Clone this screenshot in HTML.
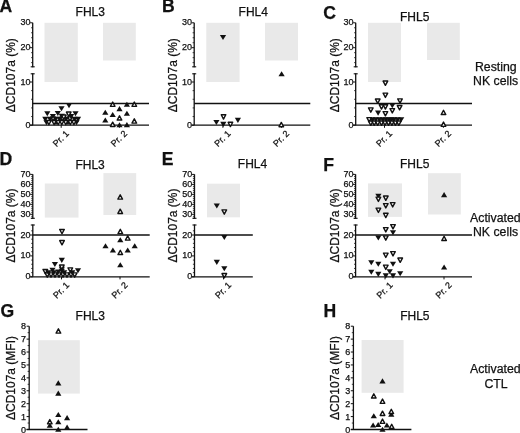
<!DOCTYPE html>
<html><head><meta charset="utf-8"><style>
html,body{margin:0;padding:0;background:#fff;}
body{width:520px;height:433px;overflow:hidden;}
svg{display:block;will-change:transform;filter:blur(0.3px);}
text{font-family:"Liberation Sans",sans-serif;fill:#111;stroke:#111;stroke-width:0.25px;}
</style></head><body>
<svg width="520" height="433" viewBox="0 0 520 433">
<rect x="0" y="0" width="520" height="433" fill="#fff"/>
<text x="-0.60" y="12.40" font-size="17.6" text-anchor="start" font-weight="bold" >A</text>
<text x="75.60" y="15.90" font-size="12" text-anchor="start" font-weight="normal" >FHL3</text>
<rect x="44.50" y="22.80" width="33.30" height="59.20" fill="#e9e9e9"/>
<rect x="103.00" y="22.80" width="32.80" height="37.70" fill="#e9e9e9"/>
<line x1="32.70" y1="22.70" x2="32.70" y2="67.30" stroke="#111" stroke-width="1.3"/>
<line x1="30.70" y1="66.80" x2="34.70" y2="66.80" stroke="#111" stroke-width="1.1"/>
<line x1="32.70" y1="73.30" x2="32.70" y2="125.20" stroke="#111" stroke-width="1.3"/>
<line x1="30.70" y1="73.80" x2="34.70" y2="73.80" stroke="#111" stroke-width="1.1"/>
<line x1="30.10" y1="22.80" x2="32.70" y2="22.80" stroke="#111" stroke-width="1.0"/>
<text x="30.50" y="25.30" font-size="9" text-anchor="end" font-weight="normal" >30</text>
<line x1="30.10" y1="47.70" x2="32.70" y2="47.70" stroke="#111" stroke-width="1.0"/>
<text x="30.50" y="50.20" font-size="9" text-anchor="end" font-weight="normal" >20</text>
<line x1="30.10" y1="82.00" x2="32.70" y2="82.00" stroke="#111" stroke-width="1.0"/>
<text x="30.50" y="84.50" font-size="9" text-anchor="end" font-weight="normal" >10</text>
<line x1="30.10" y1="125.20" x2="32.70" y2="125.20" stroke="#111" stroke-width="1.0"/>
<text x="30.50" y="127.70" font-size="9" text-anchor="end" font-weight="normal" >0</text>
<line x1="31.10" y1="27.78" x2="32.70" y2="27.78" stroke="#111" stroke-width="0.8"/>
<line x1="31.10" y1="32.76" x2="32.70" y2="32.76" stroke="#111" stroke-width="0.8"/>
<line x1="31.10" y1="37.74" x2="32.70" y2="37.74" stroke="#111" stroke-width="0.8"/>
<line x1="31.10" y1="42.72" x2="32.70" y2="42.72" stroke="#111" stroke-width="0.8"/>
<line x1="31.10" y1="52.68" x2="32.70" y2="52.68" stroke="#111" stroke-width="0.8"/>
<line x1="31.10" y1="57.66" x2="32.70" y2="57.66" stroke="#111" stroke-width="0.8"/>
<line x1="31.10" y1="62.64" x2="32.70" y2="62.64" stroke="#111" stroke-width="0.8"/>
<line x1="31.10" y1="90.64" x2="32.70" y2="90.64" stroke="#111" stroke-width="0.8"/>
<line x1="31.10" y1="99.28" x2="32.70" y2="99.28" stroke="#111" stroke-width="0.8"/>
<line x1="31.10" y1="107.92" x2="32.70" y2="107.92" stroke="#111" stroke-width="0.8"/>
<line x1="31.10" y1="116.56" x2="32.70" y2="116.56" stroke="#111" stroke-width="0.8"/>
<line x1="32.70" y1="103.50" x2="149.00" y2="103.50" stroke="#111" stroke-width="1.3"/>
<line x1="30.10" y1="125.20" x2="149.00" y2="125.20" stroke="#111" stroke-width="1.3"/>
<line x1="61.20" y1="125.20" x2="61.20" y2="127.80" stroke="#111" stroke-width="1.0"/>
<text x="69.50" y="134.20" font-size="9" text-anchor="end" font-weight="normal" transform="rotate(-45 69.50 134.20)">Pr. 1</text>
<line x1="119.40" y1="125.20" x2="119.40" y2="127.80" stroke="#111" stroke-width="1.0"/>
<text x="127.70" y="134.20" font-size="9" text-anchor="end" font-weight="normal" transform="rotate(-45 127.70 134.20)">Pr. 2</text>
<text x="15.20" y="75.20" font-size="12" text-anchor="middle" font-weight="normal" transform="rotate(-90 15.20 75.2)">&#916;CD107a (%)</text>
<polygon points="43.40,120.25 49.60,120.25 46.50,125.35" fill="#111"/>
<polygon points="52.90,120.25 59.10,120.25 56.00,125.35" fill="#111"/>
<polygon points="64.90,120.25 71.10,120.25 68.00,125.35" fill="#111"/>
<polygon points="73.40,120.25 79.60,120.25 76.50,125.35" fill="#111"/>
<polygon points="42.20,116.85 48.40,116.85 45.30,121.95" fill="#111"/>
<polygon points="46.90,116.85 53.10,116.85 50.00,121.95" fill="#111"/>
<polygon points="52.40,116.85 58.60,116.85 55.50,121.95" fill="#111"/>
<polygon points="56.40,116.85 62.60,116.85 59.50,121.95" fill="#111"/>
<polygon points="62.90,116.85 69.10,116.85 66.00,121.95" fill="#111"/>
<polygon points="71.40,116.85 77.60,116.85 74.50,121.95" fill="#111"/>
<polygon points="74.90,116.85 81.10,116.85 78.00,121.95" fill="#111"/>
<polygon points="50.70,116.85 55.30,116.85 53.00,121.15" fill="#fff" stroke="#111" stroke-width="1.4" stroke-linejoin="round"/>
<polygon points="60.20,116.85 64.80,116.85 62.50,121.15" fill="#fff" stroke="#111" stroke-width="1.4" stroke-linejoin="round"/>
<polygon points="67.70,116.85 72.30,116.85 70.00,121.15" fill="#fff" stroke="#111" stroke-width="1.4" stroke-linejoin="round"/>
<polygon points="46.60,120.45 51.20,120.45 48.90,124.75" fill="#fff" stroke="#111" stroke-width="1.4" stroke-linejoin="round"/>
<polygon points="51.80,120.45 56.40,120.45 54.10,124.75" fill="#fff" stroke="#111" stroke-width="1.4" stroke-linejoin="round"/>
<polygon points="55.90,120.45 60.50,120.45 58.20,124.75" fill="#fff" stroke="#111" stroke-width="1.4" stroke-linejoin="round"/>
<polygon points="59.50,120.45 64.10,120.45 61.80,124.75" fill="#fff" stroke="#111" stroke-width="1.4" stroke-linejoin="round"/>
<polygon points="63.50,120.45 68.10,120.45 65.80,124.75" fill="#fff" stroke="#111" stroke-width="1.4" stroke-linejoin="round"/>
<polygon points="68.00,120.45 72.60,120.45 70.30,124.75" fill="#fff" stroke="#111" stroke-width="1.4" stroke-linejoin="round"/>
<polygon points="71.60,120.45 76.20,120.45 73.90,124.75" fill="#fff" stroke="#111" stroke-width="1.4" stroke-linejoin="round"/>
<polygon points="49.80,113.95 56.00,113.95 52.90,119.05" fill="#111"/>
<polygon points="58.70,113.85 64.90,113.85 61.80,118.95" fill="#111"/>
<polygon points="61.50,115.05 66.10,115.05 63.80,119.35" fill="#fff" stroke="#111" stroke-width="1.4" stroke-linejoin="round"/>
<polygon points="68.00,114.05 74.20,114.05 71.10,119.15" fill="#111"/>
<polygon points="44.20,111.15 50.40,111.15 47.30,116.25" fill="#111"/>
<polygon points="54.70,110.95 60.90,110.95 57.80,116.05" fill="#111"/>
<polygon points="66.40,112.05 71.00,112.05 68.70,116.35" fill="#fff" stroke="#111" stroke-width="1.4" stroke-linejoin="round"/>
<polygon points="72.40,111.15 78.60,111.15 75.50,116.25" fill="#111"/>
<polygon points="58.40,106.15 64.60,106.15 61.50,111.25" fill="#111"/>
<polygon points="65.90,103.05 72.10,103.05 69.00,108.15" fill="#111"/>
<polygon points="110.40,106.35 115.00,106.35 112.70,102.05" fill="#fff" stroke="#111" stroke-width="1.4" stroke-linejoin="round"/>
<polygon points="123.80,106.75 130.00,106.75 126.90,101.65" fill="#111"/>
<polygon points="132.00,106.35 136.60,106.35 134.30,102.05" fill="#fff" stroke="#111" stroke-width="1.4" stroke-linejoin="round"/>
<polygon points="116.40,111.15 122.60,111.15 119.50,106.05" fill="#111"/>
<polygon points="102.20,114.85 108.40,114.85 105.30,109.75" fill="#111"/>
<polygon points="109.60,117.05 115.80,117.05 112.70,111.95" fill="#111"/>
<polygon points="123.80,115.75 130.00,115.75 126.90,110.65" fill="#111"/>
<polygon points="117.20,120.05 121.80,120.05 119.50,115.75" fill="#fff" stroke="#111" stroke-width="1.4" stroke-linejoin="round"/>
<polygon points="102.20,122.55 108.40,122.55 105.30,117.45" fill="#111"/>
<polygon points="132.00,123.15 136.60,123.15 134.30,118.85" fill="#fff" stroke="#111" stroke-width="1.4" stroke-linejoin="round"/>
<polygon points="110.40,126.45 115.00,126.45 112.70,122.15" fill="#fff" stroke="#111" stroke-width="1.4" stroke-linejoin="round"/>
<polygon points="116.40,127.35 122.60,127.35 119.50,122.25" fill="#111"/>
<polygon points="123.80,127.15 130.00,127.15 126.90,122.05" fill="#111"/>
<text x="162.00" y="12.40" font-size="17.6" text-anchor="start" font-weight="bold" >B</text>
<text x="238.60" y="15.90" font-size="12" text-anchor="start" font-weight="normal" >FHL4</text>
<rect x="206.30" y="22.80" width="33.30" height="59.20" fill="#e9e9e9"/>
<rect x="265.00" y="22.80" width="33.00" height="37.70" fill="#e9e9e9"/>
<line x1="194.20" y1="22.70" x2="194.20" y2="67.30" stroke="#111" stroke-width="1.3"/>
<line x1="192.20" y1="66.80" x2="196.20" y2="66.80" stroke="#111" stroke-width="1.1"/>
<line x1="194.20" y1="73.30" x2="194.20" y2="125.20" stroke="#111" stroke-width="1.3"/>
<line x1="192.20" y1="73.80" x2="196.20" y2="73.80" stroke="#111" stroke-width="1.1"/>
<line x1="191.60" y1="22.80" x2="194.20" y2="22.80" stroke="#111" stroke-width="1.0"/>
<text x="192.00" y="25.30" font-size="9" text-anchor="end" font-weight="normal" >30</text>
<line x1="191.60" y1="47.70" x2="194.20" y2="47.70" stroke="#111" stroke-width="1.0"/>
<text x="192.00" y="50.20" font-size="9" text-anchor="end" font-weight="normal" >20</text>
<line x1="191.60" y1="82.00" x2="194.20" y2="82.00" stroke="#111" stroke-width="1.0"/>
<text x="192.00" y="84.50" font-size="9" text-anchor="end" font-weight="normal" >10</text>
<line x1="191.60" y1="125.20" x2="194.20" y2="125.20" stroke="#111" stroke-width="1.0"/>
<text x="192.00" y="127.70" font-size="9" text-anchor="end" font-weight="normal" >0</text>
<line x1="192.60" y1="27.78" x2="194.20" y2="27.78" stroke="#111" stroke-width="0.8"/>
<line x1="192.60" y1="32.76" x2="194.20" y2="32.76" stroke="#111" stroke-width="0.8"/>
<line x1="192.60" y1="37.74" x2="194.20" y2="37.74" stroke="#111" stroke-width="0.8"/>
<line x1="192.60" y1="42.72" x2="194.20" y2="42.72" stroke="#111" stroke-width="0.8"/>
<line x1="192.60" y1="52.68" x2="194.20" y2="52.68" stroke="#111" stroke-width="0.8"/>
<line x1="192.60" y1="57.66" x2="194.20" y2="57.66" stroke="#111" stroke-width="0.8"/>
<line x1="192.60" y1="62.64" x2="194.20" y2="62.64" stroke="#111" stroke-width="0.8"/>
<line x1="192.60" y1="90.64" x2="194.20" y2="90.64" stroke="#111" stroke-width="0.8"/>
<line x1="192.60" y1="99.28" x2="194.20" y2="99.28" stroke="#111" stroke-width="0.8"/>
<line x1="192.60" y1="107.92" x2="194.20" y2="107.92" stroke="#111" stroke-width="0.8"/>
<line x1="192.60" y1="116.56" x2="194.20" y2="116.56" stroke="#111" stroke-width="0.8"/>
<line x1="194.20" y1="103.50" x2="310.30" y2="103.50" stroke="#111" stroke-width="1.3"/>
<line x1="191.60" y1="125.20" x2="310.30" y2="125.20" stroke="#111" stroke-width="1.3"/>
<line x1="222.90" y1="125.20" x2="222.90" y2="127.80" stroke="#111" stroke-width="1.0"/>
<text x="231.20" y="134.20" font-size="9" text-anchor="end" font-weight="normal" transform="rotate(-45 231.20 134.20)">Pr. 1</text>
<line x1="281.50" y1="125.20" x2="281.50" y2="127.80" stroke="#111" stroke-width="1.0"/>
<text x="289.80" y="134.20" font-size="9" text-anchor="end" font-weight="normal" transform="rotate(-45 289.80 134.20)">Pr. 2</text>
<text x="176.90" y="75.20" font-size="12" text-anchor="middle" font-weight="normal" transform="rotate(-90 176.90 75.2)">&#916;CD107a (%)</text>
<polygon points="219.90,34.95 226.10,34.95 223.00,40.05" fill="#111"/>
<polygon points="221.20,114.75 225.80,114.75 223.50,119.05" fill="#fff" stroke="#111" stroke-width="1.4" stroke-linejoin="round"/>
<polygon points="213.30,119.95 219.50,119.95 216.40,125.05" fill="#111"/>
<polygon points="220.20,121.85 226.40,121.85 223.30,126.95" fill="#111"/>
<polygon points="228.10,122.25 232.70,122.25 230.40,126.55" fill="#fff" stroke="#111" stroke-width="1.4" stroke-linejoin="round"/>
<polygon points="234.80,117.85 241.00,117.85 237.90,122.95" fill="#111"/>
<polygon points="278.50,76.35 284.70,76.35 281.60,71.25" fill="#111"/>
<polygon points="279.00,126.75 283.60,126.75 281.30,122.45" fill="#fff" stroke="#111" stroke-width="1.4" stroke-linejoin="round"/>
<text x="323.30" y="19.00" font-size="17.6" text-anchor="start" font-weight="bold" >C</text>
<text x="400.00" y="20.70" font-size="12" text-anchor="start" font-weight="normal" >FHL5</text>
<rect x="368.00" y="22.80" width="33.00" height="59.20" fill="#e9e9e9"/>
<rect x="427.00" y="22.80" width="32.80" height="37.20" fill="#e9e9e9"/>
<line x1="355.70" y1="22.70" x2="355.70" y2="67.30" stroke="#111" stroke-width="1.3"/>
<line x1="353.70" y1="66.80" x2="357.70" y2="66.80" stroke="#111" stroke-width="1.1"/>
<line x1="355.70" y1="73.30" x2="355.70" y2="125.20" stroke="#111" stroke-width="1.3"/>
<line x1="353.70" y1="73.80" x2="357.70" y2="73.80" stroke="#111" stroke-width="1.1"/>
<line x1="353.10" y1="22.80" x2="355.70" y2="22.80" stroke="#111" stroke-width="1.0"/>
<text x="353.50" y="25.30" font-size="9" text-anchor="end" font-weight="normal" >30</text>
<line x1="353.10" y1="47.70" x2="355.70" y2="47.70" stroke="#111" stroke-width="1.0"/>
<text x="353.50" y="50.20" font-size="9" text-anchor="end" font-weight="normal" >20</text>
<line x1="353.10" y1="82.00" x2="355.70" y2="82.00" stroke="#111" stroke-width="1.0"/>
<text x="353.50" y="84.50" font-size="9" text-anchor="end" font-weight="normal" >10</text>
<line x1="353.10" y1="125.20" x2="355.70" y2="125.20" stroke="#111" stroke-width="1.0"/>
<text x="353.50" y="127.70" font-size="9" text-anchor="end" font-weight="normal" >0</text>
<line x1="354.10" y1="27.78" x2="355.70" y2="27.78" stroke="#111" stroke-width="0.8"/>
<line x1="354.10" y1="32.76" x2="355.70" y2="32.76" stroke="#111" stroke-width="0.8"/>
<line x1="354.10" y1="37.74" x2="355.70" y2="37.74" stroke="#111" stroke-width="0.8"/>
<line x1="354.10" y1="42.72" x2="355.70" y2="42.72" stroke="#111" stroke-width="0.8"/>
<line x1="354.10" y1="52.68" x2="355.70" y2="52.68" stroke="#111" stroke-width="0.8"/>
<line x1="354.10" y1="57.66" x2="355.70" y2="57.66" stroke="#111" stroke-width="0.8"/>
<line x1="354.10" y1="62.64" x2="355.70" y2="62.64" stroke="#111" stroke-width="0.8"/>
<line x1="354.10" y1="90.64" x2="355.70" y2="90.64" stroke="#111" stroke-width="0.8"/>
<line x1="354.10" y1="99.28" x2="355.70" y2="99.28" stroke="#111" stroke-width="0.8"/>
<line x1="354.10" y1="107.92" x2="355.70" y2="107.92" stroke="#111" stroke-width="0.8"/>
<line x1="354.10" y1="116.56" x2="355.70" y2="116.56" stroke="#111" stroke-width="0.8"/>
<line x1="355.70" y1="103.50" x2="472.00" y2="103.50" stroke="#111" stroke-width="1.3"/>
<line x1="353.10" y1="125.20" x2="472.00" y2="125.20" stroke="#111" stroke-width="1.3"/>
<line x1="384.50" y1="125.20" x2="384.50" y2="127.80" stroke="#111" stroke-width="1.0"/>
<text x="392.80" y="134.20" font-size="9" text-anchor="end" font-weight="normal" transform="rotate(-45 392.80 134.20)">Pr. 1</text>
<line x1="443.40" y1="125.20" x2="443.40" y2="127.80" stroke="#111" stroke-width="1.0"/>
<text x="451.70" y="134.20" font-size="9" text-anchor="end" font-weight="normal" transform="rotate(-45 451.70 134.20)">Pr. 2</text>
<text x="338.70" y="75.20" font-size="12" text-anchor="middle" font-weight="normal" transform="rotate(-90 338.70 75.2)">&#916;CD107a (%)</text>
<polygon points="383.10,81.05 387.70,81.05 385.40,85.35" fill="#fff" stroke="#111" stroke-width="1.4" stroke-linejoin="round"/>
<polygon points="383.10,93.15 387.70,93.15 385.40,97.45" fill="#fff" stroke="#111" stroke-width="1.4" stroke-linejoin="round"/>
<polygon points="375.40,99.05 380.00,99.05 377.70,103.35" fill="#fff" stroke="#111" stroke-width="1.4" stroke-linejoin="round"/>
<polygon points="397.70,98.85 402.30,98.85 400.00,103.15" fill="#fff" stroke="#111" stroke-width="1.4" stroke-linejoin="round"/>
<polygon points="379.20,104.75 383.80,104.75 381.50,109.05" fill="#fff" stroke="#111" stroke-width="1.4" stroke-linejoin="round"/>
<polygon points="383.10,104.75 387.70,104.75 385.40,109.05" fill="#fff" stroke="#111" stroke-width="1.4" stroke-linejoin="round"/>
<polygon points="389.20,103.25 395.40,103.25 392.30,108.35" fill="#111"/>
<polygon points="397.30,105.55 401.90,105.55 399.60,109.85" fill="#fff" stroke="#111" stroke-width="1.4" stroke-linejoin="round"/>
<polygon points="368.50,107.85 373.10,107.85 370.80,112.15" fill="#fff" stroke="#111" stroke-width="1.4" stroke-linejoin="round"/>
<polygon points="375.00,110.55 381.20,110.55 378.10,115.65" fill="#111"/>
<polygon points="383.10,111.65 387.70,111.65 385.40,115.95" fill="#fff" stroke="#111" stroke-width="1.4" stroke-linejoin="round"/>
<polygon points="390.00,108.65 394.60,108.65 392.30,112.95" fill="#fff" stroke="#111" stroke-width="1.4" stroke-linejoin="round"/>
<polygon points="366.90,117.65 371.50,117.65 369.20,121.95" fill="#fff" stroke="#111" stroke-width="1.4" stroke-linejoin="round"/>
<polygon points="369.40,117.25 375.60,117.25 372.50,122.35" fill="#111"/>
<polygon points="372.70,117.25 378.90,117.25 375.80,122.35" fill="#111"/>
<polygon points="376.20,117.25 382.40,117.25 379.30,122.35" fill="#111"/>
<polygon points="379.60,117.25 385.80,117.25 382.70,122.35" fill="#111"/>
<polygon points="382.70,117.25 388.90,117.25 385.80,122.35" fill="#111"/>
<polygon points="385.70,117.25 391.90,117.25 388.80,122.35" fill="#111"/>
<polygon points="388.40,117.25 394.60,117.25 391.50,122.35" fill="#111"/>
<polygon points="391.10,117.25 397.30,117.25 394.20,122.35" fill="#111"/>
<polygon points="394.60,117.25 400.80,117.25 397.70,122.35" fill="#111"/>
<polygon points="398.10,117.25 404.30,117.25 401.20,122.35" fill="#111"/>
<polygon points="368.50,121.05 373.10,121.05 370.80,125.35" fill="#fff" stroke="#111" stroke-width="1.4" stroke-linejoin="round"/>
<polygon points="371.90,121.05 376.50,121.05 374.20,125.35" fill="#fff" stroke="#111" stroke-width="1.4" stroke-linejoin="round"/>
<polygon points="375.40,121.05 380.00,121.05 377.70,125.35" fill="#fff" stroke="#111" stroke-width="1.4" stroke-linejoin="round"/>
<polygon points="379.20,121.05 383.80,121.05 381.50,125.35" fill="#fff" stroke="#111" stroke-width="1.4" stroke-linejoin="round"/>
<polygon points="382.70,121.05 387.30,121.05 385.00,125.35" fill="#fff" stroke="#111" stroke-width="1.4" stroke-linejoin="round"/>
<polygon points="386.20,121.05 390.80,121.05 388.50,125.35" fill="#fff" stroke="#111" stroke-width="1.4" stroke-linejoin="round"/>
<polygon points="389.60,121.05 394.20,121.05 391.90,125.35" fill="#fff" stroke="#111" stroke-width="1.4" stroke-linejoin="round"/>
<polygon points="393.10,121.05 397.70,121.05 395.40,125.35" fill="#fff" stroke="#111" stroke-width="1.4" stroke-linejoin="round"/>
<polygon points="396.50,121.05 401.10,121.05 398.80,125.35" fill="#fff" stroke="#111" stroke-width="1.4" stroke-linejoin="round"/>
<polygon points="441.20,114.55 445.80,114.55 443.50,110.25" fill="#fff" stroke="#111" stroke-width="1.4" stroke-linejoin="round"/>
<polygon points="441.20,126.35 445.80,126.35 443.50,122.05" fill="#fff" stroke="#111" stroke-width="1.4" stroke-linejoin="round"/>
<text x="495.80" y="70.60" font-size="12.3" text-anchor="middle" font-weight="normal" >Resting</text>
<text x="495.60" y="85.20" font-size="12.3" text-anchor="middle" font-weight="normal" >NK cells</text>
<text x="-0.40" y="164.60" font-size="17.6" text-anchor="start" font-weight="bold" >D</text>
<text x="75.40" y="168.50" font-size="12" text-anchor="start" font-weight="normal" >FHL3</text>
<rect x="44.80" y="183.50" width="33.70" height="34.10" fill="#e9e9e9"/>
<rect x="103.40" y="173.10" width="32.80" height="41.90" fill="#e9e9e9"/>
<line x1="32.80" y1="174.30" x2="32.80" y2="218.80" stroke="#111" stroke-width="1.3"/>
<line x1="30.80" y1="218.30" x2="34.80" y2="218.30" stroke="#111" stroke-width="1.1"/>
<line x1="32.80" y1="224.50" x2="32.80" y2="276.80" stroke="#111" stroke-width="1.3"/>
<line x1="30.80" y1="225.00" x2="34.80" y2="225.00" stroke="#111" stroke-width="1.1"/>
<line x1="30.20" y1="174.40" x2="32.80" y2="174.40" stroke="#111" stroke-width="1.0"/>
<text x="30.60" y="176.90" font-size="9" text-anchor="end" font-weight="normal" >70</text>
<line x1="30.20" y1="184.38" x2="32.80" y2="184.38" stroke="#111" stroke-width="1.0"/>
<text x="30.60" y="186.88" font-size="9" text-anchor="end" font-weight="normal" >60</text>
<line x1="30.20" y1="194.35" x2="32.80" y2="194.35" stroke="#111" stroke-width="1.0"/>
<text x="30.60" y="196.85" font-size="9" text-anchor="end" font-weight="normal" >50</text>
<line x1="30.20" y1="204.33" x2="32.80" y2="204.33" stroke="#111" stroke-width="1.0"/>
<text x="30.60" y="206.83" font-size="9" text-anchor="end" font-weight="normal" >40</text>
<line x1="30.20" y1="214.30" x2="32.80" y2="214.30" stroke="#111" stroke-width="1.0"/>
<text x="30.60" y="216.80" font-size="9" text-anchor="end" font-weight="normal" >30</text>
<line x1="30.20" y1="235.00" x2="32.80" y2="235.00" stroke="#111" stroke-width="1.0"/>
<text x="30.60" y="237.50" font-size="9" text-anchor="end" font-weight="normal" >20</text>
<line x1="30.20" y1="255.90" x2="32.80" y2="255.90" stroke="#111" stroke-width="1.0"/>
<text x="30.60" y="258.40" font-size="9" text-anchor="end" font-weight="normal" >10</text>
<line x1="30.20" y1="276.80" x2="32.80" y2="276.80" stroke="#111" stroke-width="1.0"/>
<text x="30.60" y="279.30" font-size="9" text-anchor="end" font-weight="normal" >0</text>
<line x1="31.20" y1="176.40" x2="32.80" y2="176.40" stroke="#111" stroke-width="0.8"/>
<line x1="31.20" y1="178.39" x2="32.80" y2="178.39" stroke="#111" stroke-width="0.8"/>
<line x1="31.20" y1="180.39" x2="32.80" y2="180.39" stroke="#111" stroke-width="0.8"/>
<line x1="31.20" y1="182.38" x2="32.80" y2="182.38" stroke="#111" stroke-width="0.8"/>
<line x1="31.20" y1="186.37" x2="32.80" y2="186.37" stroke="#111" stroke-width="0.8"/>
<line x1="31.20" y1="188.37" x2="32.80" y2="188.37" stroke="#111" stroke-width="0.8"/>
<line x1="31.20" y1="190.36" x2="32.80" y2="190.36" stroke="#111" stroke-width="0.8"/>
<line x1="31.20" y1="192.36" x2="32.80" y2="192.36" stroke="#111" stroke-width="0.8"/>
<line x1="31.20" y1="196.34" x2="32.80" y2="196.34" stroke="#111" stroke-width="0.8"/>
<line x1="31.20" y1="198.34" x2="32.80" y2="198.34" stroke="#111" stroke-width="0.8"/>
<line x1="31.20" y1="200.34" x2="32.80" y2="200.34" stroke="#111" stroke-width="0.8"/>
<line x1="31.20" y1="202.33" x2="32.80" y2="202.33" stroke="#111" stroke-width="0.8"/>
<line x1="31.20" y1="206.32" x2="32.80" y2="206.32" stroke="#111" stroke-width="0.8"/>
<line x1="31.20" y1="208.31" x2="32.80" y2="208.31" stroke="#111" stroke-width="0.8"/>
<line x1="31.20" y1="210.31" x2="32.80" y2="210.31" stroke="#111" stroke-width="0.8"/>
<line x1="31.20" y1="212.31" x2="32.80" y2="212.31" stroke="#111" stroke-width="0.8"/>
<line x1="31.20" y1="216.30" x2="32.80" y2="216.30" stroke="#111" stroke-width="0.8"/>
<line x1="31.20" y1="218.29" x2="32.80" y2="218.29" stroke="#111" stroke-width="0.8"/>
<line x1="31.20" y1="230.82" x2="32.80" y2="230.82" stroke="#111" stroke-width="0.8"/>
<line x1="31.20" y1="239.18" x2="32.80" y2="239.18" stroke="#111" stroke-width="0.8"/>
<line x1="31.20" y1="243.36" x2="32.80" y2="243.36" stroke="#111" stroke-width="0.8"/>
<line x1="31.20" y1="247.54" x2="32.80" y2="247.54" stroke="#111" stroke-width="0.8"/>
<line x1="31.20" y1="251.72" x2="32.80" y2="251.72" stroke="#111" stroke-width="0.8"/>
<line x1="31.20" y1="260.08" x2="32.80" y2="260.08" stroke="#111" stroke-width="0.8"/>
<line x1="31.20" y1="264.26" x2="32.80" y2="264.26" stroke="#111" stroke-width="0.8"/>
<line x1="31.20" y1="268.44" x2="32.80" y2="268.44" stroke="#111" stroke-width="0.8"/>
<line x1="31.20" y1="272.62" x2="32.80" y2="272.62" stroke="#111" stroke-width="0.8"/>
<line x1="32.80" y1="235.00" x2="149.70" y2="235.00" stroke="#111" stroke-width="1.3"/>
<line x1="30.20" y1="276.80" x2="149.70" y2="276.80" stroke="#111" stroke-width="1.3"/>
<line x1="61.50" y1="276.80" x2="61.50" y2="279.40" stroke="#111" stroke-width="1.0"/>
<text x="69.80" y="285.80" font-size="9" text-anchor="end" font-weight="normal" transform="rotate(-45 69.80 285.80)">Pr. 1</text>
<line x1="120.00" y1="276.80" x2="120.00" y2="279.40" stroke="#111" stroke-width="1.0"/>
<text x="128.30" y="285.80" font-size="9" text-anchor="end" font-weight="normal" transform="rotate(-45 128.30 285.80)">Pr. 2</text>
<text x="15.30" y="225.50" font-size="12" text-anchor="middle" font-weight="normal" transform="rotate(-90 15.30 225.5)">&#916;CD107a (%)</text>
<polygon points="59.70,229.45 64.30,229.45 62.00,233.75" fill="#fff" stroke="#111" stroke-width="1.4" stroke-linejoin="round"/>
<polygon points="59.70,240.55 64.30,240.55 62.00,244.85" fill="#fff" stroke="#111" stroke-width="1.4" stroke-linejoin="round"/>
<polygon points="58.70,257.85 64.90,257.85 61.80,262.95" fill="#111"/>
<polygon points="51.80,261.95 58.00,261.95 54.90,267.05" fill="#111"/>
<polygon points="58.70,266.75 64.90,266.75 61.80,271.85" fill="#111"/>
<polygon points="59.50,265.05 64.10,265.05 61.80,269.35" fill="#fff" stroke="#111" stroke-width="1.4" stroke-linejoin="round"/>
<polygon points="45.00,272.85 49.60,272.85 47.30,277.15" fill="#fff" stroke="#111" stroke-width="1.4" stroke-linejoin="round"/>
<polygon points="48.70,272.85 53.30,272.85 51.00,277.15" fill="#fff" stroke="#111" stroke-width="1.4" stroke-linejoin="round"/>
<polygon points="52.70,272.85 57.30,272.85 55.00,277.15" fill="#fff" stroke="#111" stroke-width="1.4" stroke-linejoin="round"/>
<polygon points="56.70,272.85 61.30,272.85 59.00,277.15" fill="#fff" stroke="#111" stroke-width="1.4" stroke-linejoin="round"/>
<polygon points="60.70,272.85 65.30,272.85 63.00,277.15" fill="#fff" stroke="#111" stroke-width="1.4" stroke-linejoin="round"/>
<polygon points="64.70,272.85 69.30,272.85 67.00,277.15" fill="#fff" stroke="#111" stroke-width="1.4" stroke-linejoin="round"/>
<polygon points="68.70,272.85 73.30,272.85 71.00,277.15" fill="#fff" stroke="#111" stroke-width="1.4" stroke-linejoin="round"/>
<polygon points="72.40,272.85 77.00,272.85 74.70,277.15" fill="#fff" stroke="#111" stroke-width="1.4" stroke-linejoin="round"/>
<polygon points="43.00,269.45 47.60,269.45 45.30,273.75" fill="#fff" stroke="#111" stroke-width="1.4" stroke-linejoin="round"/>
<polygon points="45.40,270.25 51.60,270.25 48.50,275.35" fill="#111"/>
<polygon points="49.40,267.75 55.60,267.75 52.50,272.85" fill="#111"/>
<polygon points="50.60,270.25 56.80,270.25 53.70,275.35" fill="#111"/>
<polygon points="55.10,269.45 61.30,269.45 58.20,274.55" fill="#111"/>
<polygon points="58.70,268.65 64.90,268.65 61.80,273.75" fill="#111"/>
<polygon points="61.10,270.25 67.30,270.25 64.20,275.35" fill="#111"/>
<polygon points="68.00,267.85 72.60,267.85 70.30,272.15" fill="#fff" stroke="#111" stroke-width="1.4" stroke-linejoin="round"/>
<polygon points="69.20,270.25 75.40,270.25 72.30,275.35" fill="#111"/>
<polygon points="74.90,268.25 81.10,268.25 78.00,273.35" fill="#111"/>
<polygon points="117.90,199.15 122.50,199.15 120.20,194.85" fill="#fff" stroke="#111" stroke-width="1.4" stroke-linejoin="round"/>
<polygon points="117.90,213.45 122.50,213.45 120.20,209.15" fill="#fff" stroke="#111" stroke-width="1.4" stroke-linejoin="round"/>
<polygon points="118.00,233.65 122.60,233.65 120.30,229.35" fill="#fff" stroke="#111" stroke-width="1.4" stroke-linejoin="round"/>
<polygon points="125.40,240.15 130.00,240.15 127.70,235.85" fill="#fff" stroke="#111" stroke-width="1.4" stroke-linejoin="round"/>
<polygon points="117.20,242.35 123.40,242.35 120.30,237.25" fill="#111"/>
<polygon points="102.40,248.25 108.60,248.25 105.50,243.15" fill="#111"/>
<polygon points="109.80,252.55 116.00,252.55 112.90,247.45" fill="#111"/>
<polygon points="118.00,254.55 122.60,254.55 120.30,250.25" fill="#fff" stroke="#111" stroke-width="1.4" stroke-linejoin="round"/>
<polygon points="124.60,252.55 130.80,252.55 127.70,247.45" fill="#111"/>
<polygon points="131.60,248.25 137.80,248.25 134.70,243.15" fill="#111"/>
<polygon points="117.20,267.25 123.40,267.25 120.30,262.15" fill="#111"/>
<text x="161.80" y="164.50" font-size="17.6" text-anchor="start" font-weight="bold" >E</text>
<text x="237.80" y="167.80" font-size="12" text-anchor="start" font-weight="normal" >FHL4</text>
<rect x="207.00" y="183.70" width="33.00" height="33.60" fill="#e9e9e9"/>
<line x1="194.50" y1="174.30" x2="194.50" y2="218.80" stroke="#111" stroke-width="1.3"/>
<line x1="192.50" y1="218.30" x2="196.50" y2="218.30" stroke="#111" stroke-width="1.1"/>
<line x1="194.50" y1="224.50" x2="194.50" y2="276.80" stroke="#111" stroke-width="1.3"/>
<line x1="192.50" y1="225.00" x2="196.50" y2="225.00" stroke="#111" stroke-width="1.1"/>
<line x1="191.90" y1="174.40" x2="194.50" y2="174.40" stroke="#111" stroke-width="1.0"/>
<text x="192.30" y="176.90" font-size="9" text-anchor="end" font-weight="normal" >70</text>
<line x1="191.90" y1="184.38" x2="194.50" y2="184.38" stroke="#111" stroke-width="1.0"/>
<text x="192.30" y="186.88" font-size="9" text-anchor="end" font-weight="normal" >60</text>
<line x1="191.90" y1="194.35" x2="194.50" y2="194.35" stroke="#111" stroke-width="1.0"/>
<text x="192.30" y="196.85" font-size="9" text-anchor="end" font-weight="normal" >50</text>
<line x1="191.90" y1="204.33" x2="194.50" y2="204.33" stroke="#111" stroke-width="1.0"/>
<text x="192.30" y="206.83" font-size="9" text-anchor="end" font-weight="normal" >40</text>
<line x1="191.90" y1="214.30" x2="194.50" y2="214.30" stroke="#111" stroke-width="1.0"/>
<text x="192.30" y="216.80" font-size="9" text-anchor="end" font-weight="normal" >30</text>
<line x1="191.90" y1="235.00" x2="194.50" y2="235.00" stroke="#111" stroke-width="1.0"/>
<text x="192.30" y="237.50" font-size="9" text-anchor="end" font-weight="normal" >20</text>
<line x1="191.90" y1="255.90" x2="194.50" y2="255.90" stroke="#111" stroke-width="1.0"/>
<text x="192.30" y="258.40" font-size="9" text-anchor="end" font-weight="normal" >10</text>
<line x1="191.90" y1="276.80" x2="194.50" y2="276.80" stroke="#111" stroke-width="1.0"/>
<text x="192.30" y="279.30" font-size="9" text-anchor="end" font-weight="normal" >0</text>
<line x1="192.90" y1="176.40" x2="194.50" y2="176.40" stroke="#111" stroke-width="0.8"/>
<line x1="192.90" y1="178.39" x2="194.50" y2="178.39" stroke="#111" stroke-width="0.8"/>
<line x1="192.90" y1="180.39" x2="194.50" y2="180.39" stroke="#111" stroke-width="0.8"/>
<line x1="192.90" y1="182.38" x2="194.50" y2="182.38" stroke="#111" stroke-width="0.8"/>
<line x1="192.90" y1="186.37" x2="194.50" y2="186.37" stroke="#111" stroke-width="0.8"/>
<line x1="192.90" y1="188.37" x2="194.50" y2="188.37" stroke="#111" stroke-width="0.8"/>
<line x1="192.90" y1="190.36" x2="194.50" y2="190.36" stroke="#111" stroke-width="0.8"/>
<line x1="192.90" y1="192.36" x2="194.50" y2="192.36" stroke="#111" stroke-width="0.8"/>
<line x1="192.90" y1="196.34" x2="194.50" y2="196.34" stroke="#111" stroke-width="0.8"/>
<line x1="192.90" y1="198.34" x2="194.50" y2="198.34" stroke="#111" stroke-width="0.8"/>
<line x1="192.90" y1="200.34" x2="194.50" y2="200.34" stroke="#111" stroke-width="0.8"/>
<line x1="192.90" y1="202.33" x2="194.50" y2="202.33" stroke="#111" stroke-width="0.8"/>
<line x1="192.90" y1="206.32" x2="194.50" y2="206.32" stroke="#111" stroke-width="0.8"/>
<line x1="192.90" y1="208.31" x2="194.50" y2="208.31" stroke="#111" stroke-width="0.8"/>
<line x1="192.90" y1="210.31" x2="194.50" y2="210.31" stroke="#111" stroke-width="0.8"/>
<line x1="192.90" y1="212.31" x2="194.50" y2="212.31" stroke="#111" stroke-width="0.8"/>
<line x1="192.90" y1="216.30" x2="194.50" y2="216.30" stroke="#111" stroke-width="0.8"/>
<line x1="192.90" y1="218.29" x2="194.50" y2="218.29" stroke="#111" stroke-width="0.8"/>
<line x1="192.90" y1="230.82" x2="194.50" y2="230.82" stroke="#111" stroke-width="0.8"/>
<line x1="192.90" y1="239.18" x2="194.50" y2="239.18" stroke="#111" stroke-width="0.8"/>
<line x1="192.90" y1="243.36" x2="194.50" y2="243.36" stroke="#111" stroke-width="0.8"/>
<line x1="192.90" y1="247.54" x2="194.50" y2="247.54" stroke="#111" stroke-width="0.8"/>
<line x1="192.90" y1="251.72" x2="194.50" y2="251.72" stroke="#111" stroke-width="0.8"/>
<line x1="192.90" y1="260.08" x2="194.50" y2="260.08" stroke="#111" stroke-width="0.8"/>
<line x1="192.90" y1="264.26" x2="194.50" y2="264.26" stroke="#111" stroke-width="0.8"/>
<line x1="192.90" y1="268.44" x2="194.50" y2="268.44" stroke="#111" stroke-width="0.8"/>
<line x1="192.90" y1="272.62" x2="194.50" y2="272.62" stroke="#111" stroke-width="0.8"/>
<line x1="194.50" y1="235.00" x2="252.80" y2="235.00" stroke="#111" stroke-width="1.3"/>
<line x1="191.90" y1="276.80" x2="252.80" y2="276.80" stroke="#111" stroke-width="1.3"/>
<line x1="223.50" y1="276.80" x2="223.50" y2="279.40" stroke="#111" stroke-width="1.0"/>
<text x="231.80" y="285.80" font-size="9" text-anchor="end" font-weight="normal" transform="rotate(-45 231.80 285.80)">Pr. 1</text>
<text x="177.20" y="225.50" font-size="12" text-anchor="middle" font-weight="normal" transform="rotate(-90 177.20 225.5)">&#916;CD107a (%)</text>
<polygon points="213.70,203.45 219.90,203.45 216.80,208.55" fill="#111"/>
<polygon points="222.00,209.85 226.60,209.85 224.30,214.15" fill="#fff" stroke="#111" stroke-width="1.4" stroke-linejoin="round"/>
<polygon points="221.20,234.95 227.40,234.95 224.30,240.05" fill="#111"/>
<polygon points="213.70,259.85 219.90,259.85 216.80,264.95" fill="#111"/>
<polygon points="221.20,266.25 227.40,266.25 224.30,271.35" fill="#111"/>
<polygon points="222.00,273.55 226.60,273.55 224.30,277.85" fill="#fff" stroke="#111" stroke-width="1.4" stroke-linejoin="round"/>
<text x="323.20" y="170.90" font-size="17.6" text-anchor="start" font-weight="bold" >F</text>
<text x="400.00" y="167.80" font-size="12" text-anchor="start" font-weight="normal" >FHL5</text>
<rect x="368.00" y="183.40" width="34.00" height="33.50" fill="#e9e9e9"/>
<rect x="428.00" y="173.20" width="32.80" height="41.30" fill="#e9e9e9"/>
<line x1="355.60" y1="174.30" x2="355.60" y2="218.80" stroke="#111" stroke-width="1.3"/>
<line x1="353.60" y1="218.30" x2="357.60" y2="218.30" stroke="#111" stroke-width="1.1"/>
<line x1="355.60" y1="224.50" x2="355.60" y2="276.80" stroke="#111" stroke-width="1.3"/>
<line x1="353.60" y1="225.00" x2="357.60" y2="225.00" stroke="#111" stroke-width="1.1"/>
<line x1="353.00" y1="174.40" x2="355.60" y2="174.40" stroke="#111" stroke-width="1.0"/>
<text x="353.40" y="176.90" font-size="9" text-anchor="end" font-weight="normal" >70</text>
<line x1="353.00" y1="184.38" x2="355.60" y2="184.38" stroke="#111" stroke-width="1.0"/>
<text x="353.40" y="186.88" font-size="9" text-anchor="end" font-weight="normal" >60</text>
<line x1="353.00" y1="194.35" x2="355.60" y2="194.35" stroke="#111" stroke-width="1.0"/>
<text x="353.40" y="196.85" font-size="9" text-anchor="end" font-weight="normal" >50</text>
<line x1="353.00" y1="204.33" x2="355.60" y2="204.33" stroke="#111" stroke-width="1.0"/>
<text x="353.40" y="206.83" font-size="9" text-anchor="end" font-weight="normal" >40</text>
<line x1="353.00" y1="214.30" x2="355.60" y2="214.30" stroke="#111" stroke-width="1.0"/>
<text x="353.40" y="216.80" font-size="9" text-anchor="end" font-weight="normal" >30</text>
<line x1="353.00" y1="235.00" x2="355.60" y2="235.00" stroke="#111" stroke-width="1.0"/>
<text x="353.40" y="237.50" font-size="9" text-anchor="end" font-weight="normal" >20</text>
<line x1="353.00" y1="255.90" x2="355.60" y2="255.90" stroke="#111" stroke-width="1.0"/>
<text x="353.40" y="258.40" font-size="9" text-anchor="end" font-weight="normal" >10</text>
<line x1="353.00" y1="276.80" x2="355.60" y2="276.80" stroke="#111" stroke-width="1.0"/>
<text x="353.40" y="279.30" font-size="9" text-anchor="end" font-weight="normal" >0</text>
<line x1="354.00" y1="176.40" x2="355.60" y2="176.40" stroke="#111" stroke-width="0.8"/>
<line x1="354.00" y1="178.39" x2="355.60" y2="178.39" stroke="#111" stroke-width="0.8"/>
<line x1="354.00" y1="180.39" x2="355.60" y2="180.39" stroke="#111" stroke-width="0.8"/>
<line x1="354.00" y1="182.38" x2="355.60" y2="182.38" stroke="#111" stroke-width="0.8"/>
<line x1="354.00" y1="186.37" x2="355.60" y2="186.37" stroke="#111" stroke-width="0.8"/>
<line x1="354.00" y1="188.37" x2="355.60" y2="188.37" stroke="#111" stroke-width="0.8"/>
<line x1="354.00" y1="190.36" x2="355.60" y2="190.36" stroke="#111" stroke-width="0.8"/>
<line x1="354.00" y1="192.36" x2="355.60" y2="192.36" stroke="#111" stroke-width="0.8"/>
<line x1="354.00" y1="196.34" x2="355.60" y2="196.34" stroke="#111" stroke-width="0.8"/>
<line x1="354.00" y1="198.34" x2="355.60" y2="198.34" stroke="#111" stroke-width="0.8"/>
<line x1="354.00" y1="200.34" x2="355.60" y2="200.34" stroke="#111" stroke-width="0.8"/>
<line x1="354.00" y1="202.33" x2="355.60" y2="202.33" stroke="#111" stroke-width="0.8"/>
<line x1="354.00" y1="206.32" x2="355.60" y2="206.32" stroke="#111" stroke-width="0.8"/>
<line x1="354.00" y1="208.31" x2="355.60" y2="208.31" stroke="#111" stroke-width="0.8"/>
<line x1="354.00" y1="210.31" x2="355.60" y2="210.31" stroke="#111" stroke-width="0.8"/>
<line x1="354.00" y1="212.31" x2="355.60" y2="212.31" stroke="#111" stroke-width="0.8"/>
<line x1="354.00" y1="216.30" x2="355.60" y2="216.30" stroke="#111" stroke-width="0.8"/>
<line x1="354.00" y1="218.29" x2="355.60" y2="218.29" stroke="#111" stroke-width="0.8"/>
<line x1="354.00" y1="230.82" x2="355.60" y2="230.82" stroke="#111" stroke-width="0.8"/>
<line x1="354.00" y1="239.18" x2="355.60" y2="239.18" stroke="#111" stroke-width="0.8"/>
<line x1="354.00" y1="243.36" x2="355.60" y2="243.36" stroke="#111" stroke-width="0.8"/>
<line x1="354.00" y1="247.54" x2="355.60" y2="247.54" stroke="#111" stroke-width="0.8"/>
<line x1="354.00" y1="251.72" x2="355.60" y2="251.72" stroke="#111" stroke-width="0.8"/>
<line x1="354.00" y1="260.08" x2="355.60" y2="260.08" stroke="#111" stroke-width="0.8"/>
<line x1="354.00" y1="264.26" x2="355.60" y2="264.26" stroke="#111" stroke-width="0.8"/>
<line x1="354.00" y1="268.44" x2="355.60" y2="268.44" stroke="#111" stroke-width="0.8"/>
<line x1="354.00" y1="272.62" x2="355.60" y2="272.62" stroke="#111" stroke-width="0.8"/>
<line x1="355.60" y1="235.00" x2="472.00" y2="235.00" stroke="#111" stroke-width="1.3"/>
<line x1="353.00" y1="276.80" x2="472.00" y2="276.80" stroke="#111" stroke-width="1.3"/>
<line x1="385.00" y1="276.80" x2="385.00" y2="279.40" stroke="#111" stroke-width="1.0"/>
<text x="393.30" y="285.80" font-size="9" text-anchor="end" font-weight="normal" transform="rotate(-45 393.30 285.80)">Pr. 1</text>
<line x1="444.00" y1="276.80" x2="444.00" y2="279.40" stroke="#111" stroke-width="1.0"/>
<text x="452.30" y="285.80" font-size="9" text-anchor="end" font-weight="normal" transform="rotate(-45 452.30 285.80)">Pr. 2</text>
<text x="338.50" y="225.50" font-size="12" text-anchor="middle" font-weight="normal" transform="rotate(-90 338.50 225.5)">&#916;CD107a (%)</text>
<polygon points="375.30,193.75 381.50,193.75 378.40,198.85" fill="#111"/>
<polygon points="376.10,197.15 380.70,197.15 378.40,201.45" fill="#fff" stroke="#111" stroke-width="1.4" stroke-linejoin="round"/>
<polygon points="383.50,196.05 388.10,196.05 385.80,200.35" fill="#fff" stroke="#111" stroke-width="1.4" stroke-linejoin="round"/>
<polygon points="383.50,203.65 388.10,203.65 385.80,207.95" fill="#fff" stroke="#111" stroke-width="1.4" stroke-linejoin="round"/>
<polygon points="390.40,202.65 395.00,202.65 392.70,206.95" fill="#fff" stroke="#111" stroke-width="1.4" stroke-linejoin="round"/>
<polygon points="376.10,208.15 380.70,208.15 378.40,212.45" fill="#fff" stroke="#111" stroke-width="1.4" stroke-linejoin="round"/>
<polygon points="383.50,213.25 388.10,213.25 385.80,217.55" fill="#fff" stroke="#111" stroke-width="1.4" stroke-linejoin="round"/>
<polygon points="390.70,224.65 395.30,224.65 393.00,228.95" fill="#fff" stroke="#111" stroke-width="1.4" stroke-linejoin="round"/>
<polygon points="383.50,227.65 388.10,227.65 385.80,231.95" fill="#fff" stroke="#111" stroke-width="1.4" stroke-linejoin="round"/>
<polygon points="389.90,230.25 396.10,230.25 393.00,235.35" fill="#111"/>
<polygon points="375.20,235.45 381.40,235.45 378.30,240.55" fill="#111"/>
<polygon points="383.50,235.85 388.10,235.85 385.80,240.15" fill="#fff" stroke="#111" stroke-width="1.4" stroke-linejoin="round"/>
<polygon points="383.50,253.15 388.10,253.15 385.80,257.45" fill="#fff" stroke="#111" stroke-width="1.4" stroke-linejoin="round"/>
<polygon points="390.70,251.65 395.30,251.65 393.00,255.95" fill="#fff" stroke="#111" stroke-width="1.4" stroke-linejoin="round"/>
<polygon points="397.90,258.05 402.50,258.05 400.20,262.35" fill="#fff" stroke="#111" stroke-width="1.4" stroke-linejoin="round"/>
<polygon points="368.20,260.25 374.40,260.25 371.30,265.35" fill="#111"/>
<polygon points="375.20,261.75 381.40,261.75 378.30,266.85" fill="#111"/>
<polygon points="389.90,261.75 396.10,261.75 393.00,266.85" fill="#111"/>
<polygon points="383.50,265.15 388.10,265.15 385.80,269.45" fill="#fff" stroke="#111" stroke-width="1.4" stroke-linejoin="round"/>
<polygon points="368.20,269.75 374.40,269.75 371.30,274.85" fill="#111"/>
<polygon points="386.60,269.25 392.80,269.25 389.70,274.35" fill="#111"/>
<polygon points="375.20,271.85 381.40,271.85 378.30,276.95" fill="#111"/>
<polygon points="382.70,273.35 388.90,273.35 385.80,278.45" fill="#111"/>
<polygon points="389.90,273.35 396.10,273.35 393.00,278.45" fill="#111"/>
<polygon points="397.10,271.25 403.30,271.25 400.20,276.35" fill="#111"/>
<polygon points="441.00,197.15 447.20,197.15 444.10,192.05" fill="#111"/>
<polygon points="441.80,240.55 446.40,240.55 444.10,236.25" fill="#fff" stroke="#111" stroke-width="1.4" stroke-linejoin="round"/>
<polygon points="441.00,269.55 447.20,269.55 444.10,264.45" fill="#111"/>
<text x="495.40" y="221.80" font-size="12.3" text-anchor="middle" font-weight="normal" >Activated</text>
<text x="495.50" y="235.60" font-size="12.3" text-anchor="middle" font-weight="normal" >NK cells</text>
<text x="0.60" y="316.90" font-size="17.6" text-anchor="start" font-weight="bold" >G</text>
<text x="75.60" y="320.10" font-size="12" text-anchor="start" font-weight="normal" >FHL3</text>
<rect x="38.00" y="340.20" width="41.80" height="53.40" fill="#e9e9e9"/>
<line x1="29.20" y1="326.20" x2="29.20" y2="429.50" stroke="#111" stroke-width="1.3"/>
<line x1="26.60" y1="429.50" x2="29.20" y2="429.50" stroke="#111" stroke-width="1.0"/>
<text x="26.00" y="432.70" font-size="9" text-anchor="end" font-weight="normal" >0</text>
<line x1="26.60" y1="416.59" x2="29.20" y2="416.59" stroke="#111" stroke-width="1.0"/>
<text x="26.00" y="419.79" font-size="9" text-anchor="end" font-weight="normal" >1</text>
<line x1="26.60" y1="403.68" x2="29.20" y2="403.68" stroke="#111" stroke-width="1.0"/>
<text x="26.00" y="406.88" font-size="9" text-anchor="end" font-weight="normal" >2</text>
<line x1="26.60" y1="390.76" x2="29.20" y2="390.76" stroke="#111" stroke-width="1.0"/>
<text x="26.00" y="393.96" font-size="9" text-anchor="end" font-weight="normal" >3</text>
<line x1="26.60" y1="377.85" x2="29.20" y2="377.85" stroke="#111" stroke-width="1.0"/>
<text x="26.00" y="381.05" font-size="9" text-anchor="end" font-weight="normal" >4</text>
<line x1="26.60" y1="364.94" x2="29.20" y2="364.94" stroke="#111" stroke-width="1.0"/>
<text x="26.00" y="368.14" font-size="9" text-anchor="end" font-weight="normal" >5</text>
<line x1="26.60" y1="352.02" x2="29.20" y2="352.02" stroke="#111" stroke-width="1.0"/>
<text x="26.00" y="355.22" font-size="9" text-anchor="end" font-weight="normal" >6</text>
<line x1="26.60" y1="339.11" x2="29.20" y2="339.11" stroke="#111" stroke-width="1.0"/>
<text x="26.00" y="342.31" font-size="9" text-anchor="end" font-weight="normal" >7</text>
<line x1="26.60" y1="326.20" x2="29.20" y2="326.20" stroke="#111" stroke-width="1.0"/>
<text x="26.00" y="329.40" font-size="9" text-anchor="end" font-weight="normal" >8</text>
<line x1="27.60" y1="423.04" x2="29.20" y2="423.04" stroke="#111" stroke-width="0.8"/>
<line x1="27.60" y1="410.13" x2="29.20" y2="410.13" stroke="#111" stroke-width="0.8"/>
<line x1="27.60" y1="397.22" x2="29.20" y2="397.22" stroke="#111" stroke-width="0.8"/>
<line x1="27.60" y1="384.31" x2="29.20" y2="384.31" stroke="#111" stroke-width="0.8"/>
<line x1="27.60" y1="371.39" x2="29.20" y2="371.39" stroke="#111" stroke-width="0.8"/>
<line x1="27.60" y1="358.48" x2="29.20" y2="358.48" stroke="#111" stroke-width="0.8"/>
<line x1="27.60" y1="345.57" x2="29.20" y2="345.57" stroke="#111" stroke-width="0.8"/>
<line x1="27.60" y1="332.66" x2="29.20" y2="332.66" stroke="#111" stroke-width="0.8"/>
<line x1="26.60" y1="429.50" x2="87.50" y2="429.50" stroke="#111" stroke-width="1.3"/>
<text x="15.00" y="378.00" font-size="12" text-anchor="middle" font-weight="normal" transform="rotate(-90 15.00 378.0)">&#916;CD107a (MFI)</text>
<polygon points="56.10,333.15 60.70,333.15 58.40,328.85" fill="#fff" stroke="#111" stroke-width="1.4" stroke-linejoin="round"/>
<polygon points="55.20,385.45 61.40,385.45 58.30,380.35" fill="#111"/>
<polygon points="55.20,395.65 61.40,395.65 58.30,390.55" fill="#111"/>
<polygon points="55.20,417.05 61.40,417.05 58.30,411.95" fill="#111"/>
<polygon points="64.00,420.15 70.20,420.15 67.10,415.05" fill="#111"/>
<polygon points="47.50,423.85 52.10,423.85 49.80,419.55" fill="#fff" stroke="#111" stroke-width="1.4" stroke-linejoin="round"/>
<polygon points="46.70,427.75 52.90,427.75 49.80,422.65" fill="#111"/>
<polygon points="55.20,424.25 61.40,424.25 58.30,419.15" fill="#111"/>
<polygon points="64.00,429.65 70.20,429.65 67.10,424.55" fill="#111"/>
<polygon points="55.20,431.85 61.40,431.85 58.30,426.75" fill="#111"/>
<text x="323.60" y="316.90" font-size="17.6" text-anchor="start" font-weight="bold" >H</text>
<text x="400.20" y="319.60" font-size="12" text-anchor="start" font-weight="normal" >FHL5</text>
<rect x="361.60" y="340.00" width="42.00" height="52.80" fill="#e9e9e9"/>
<line x1="353.40" y1="326.20" x2="353.40" y2="429.50" stroke="#111" stroke-width="1.3"/>
<line x1="350.80" y1="429.50" x2="353.40" y2="429.50" stroke="#111" stroke-width="1.0"/>
<text x="350.20" y="432.70" font-size="9" text-anchor="end" font-weight="normal" >0</text>
<line x1="350.80" y1="416.59" x2="353.40" y2="416.59" stroke="#111" stroke-width="1.0"/>
<text x="350.20" y="419.79" font-size="9" text-anchor="end" font-weight="normal" >1</text>
<line x1="350.80" y1="403.68" x2="353.40" y2="403.68" stroke="#111" stroke-width="1.0"/>
<text x="350.20" y="406.88" font-size="9" text-anchor="end" font-weight="normal" >2</text>
<line x1="350.80" y1="390.76" x2="353.40" y2="390.76" stroke="#111" stroke-width="1.0"/>
<text x="350.20" y="393.96" font-size="9" text-anchor="end" font-weight="normal" >3</text>
<line x1="350.80" y1="377.85" x2="353.40" y2="377.85" stroke="#111" stroke-width="1.0"/>
<text x="350.20" y="381.05" font-size="9" text-anchor="end" font-weight="normal" >4</text>
<line x1="350.80" y1="364.94" x2="353.40" y2="364.94" stroke="#111" stroke-width="1.0"/>
<text x="350.20" y="368.14" font-size="9" text-anchor="end" font-weight="normal" >5</text>
<line x1="350.80" y1="352.02" x2="353.40" y2="352.02" stroke="#111" stroke-width="1.0"/>
<text x="350.20" y="355.22" font-size="9" text-anchor="end" font-weight="normal" >6</text>
<line x1="350.80" y1="339.11" x2="353.40" y2="339.11" stroke="#111" stroke-width="1.0"/>
<text x="350.20" y="342.31" font-size="9" text-anchor="end" font-weight="normal" >7</text>
<line x1="350.80" y1="326.20" x2="353.40" y2="326.20" stroke="#111" stroke-width="1.0"/>
<text x="350.20" y="329.40" font-size="9" text-anchor="end" font-weight="normal" >8</text>
<line x1="351.80" y1="423.04" x2="353.40" y2="423.04" stroke="#111" stroke-width="0.8"/>
<line x1="351.80" y1="410.13" x2="353.40" y2="410.13" stroke="#111" stroke-width="0.8"/>
<line x1="351.80" y1="397.22" x2="353.40" y2="397.22" stroke="#111" stroke-width="0.8"/>
<line x1="351.80" y1="384.31" x2="353.40" y2="384.31" stroke="#111" stroke-width="0.8"/>
<line x1="351.80" y1="371.39" x2="353.40" y2="371.39" stroke="#111" stroke-width="0.8"/>
<line x1="351.80" y1="358.48" x2="353.40" y2="358.48" stroke="#111" stroke-width="0.8"/>
<line x1="351.80" y1="345.57" x2="353.40" y2="345.57" stroke="#111" stroke-width="0.8"/>
<line x1="351.80" y1="332.66" x2="353.40" y2="332.66" stroke="#111" stroke-width="0.8"/>
<line x1="350.80" y1="429.50" x2="411.40" y2="429.50" stroke="#111" stroke-width="1.3"/>
<text x="338.80" y="378.00" font-size="12" text-anchor="middle" font-weight="normal" transform="rotate(-90 338.80 378.0)">&#916;CD107a (MFI)</text>
<polygon points="379.40,383.45 385.60,383.45 382.50,378.35" fill="#111"/>
<polygon points="371.50,398.05 376.10,398.05 373.80,393.75" fill="#fff" stroke="#111" stroke-width="1.4" stroke-linejoin="round"/>
<polygon points="380.20,403.35 384.80,403.35 382.50,399.05" fill="#fff" stroke="#111" stroke-width="1.4" stroke-linejoin="round"/>
<polygon points="388.20,416.85 394.40,416.85 391.30,411.75" fill="#111"/>
<polygon points="389.00,413.55 393.60,413.55 391.30,409.25" fill="#fff" stroke="#111" stroke-width="1.4" stroke-linejoin="round"/>
<polygon points="380.20,415.45 384.80,415.45 382.50,411.15" fill="#fff" stroke="#111" stroke-width="1.4" stroke-linejoin="round"/>
<polygon points="370.70,418.35 376.90,418.35 373.80,413.25" fill="#111"/>
<polygon points="380.20,423.35 384.80,423.35 382.50,419.05" fill="#fff" stroke="#111" stroke-width="1.4" stroke-linejoin="round"/>
<polygon points="370.00,427.55 376.20,427.55 373.10,422.45" fill="#111"/>
<polygon points="375.10,427.05 381.30,427.05 378.20,421.95" fill="#111"/>
<polygon points="383.80,427.55 390.00,427.55 386.90,422.45" fill="#111"/>
<polygon points="389.40,428.55 394.00,428.55 391.70,424.25" fill="#fff" stroke="#111" stroke-width="1.4" stroke-linejoin="round"/>
<polygon points="379.40,431.85 385.60,431.85 382.50,426.75" fill="#111"/>
<text x="495.30" y="373.40" font-size="12.3" text-anchor="middle" font-weight="normal" >Activated</text>
<text x="496.00" y="388.00" font-size="12.3" text-anchor="middle" font-weight="normal" >CTL</text>
</svg>
</body></html>
